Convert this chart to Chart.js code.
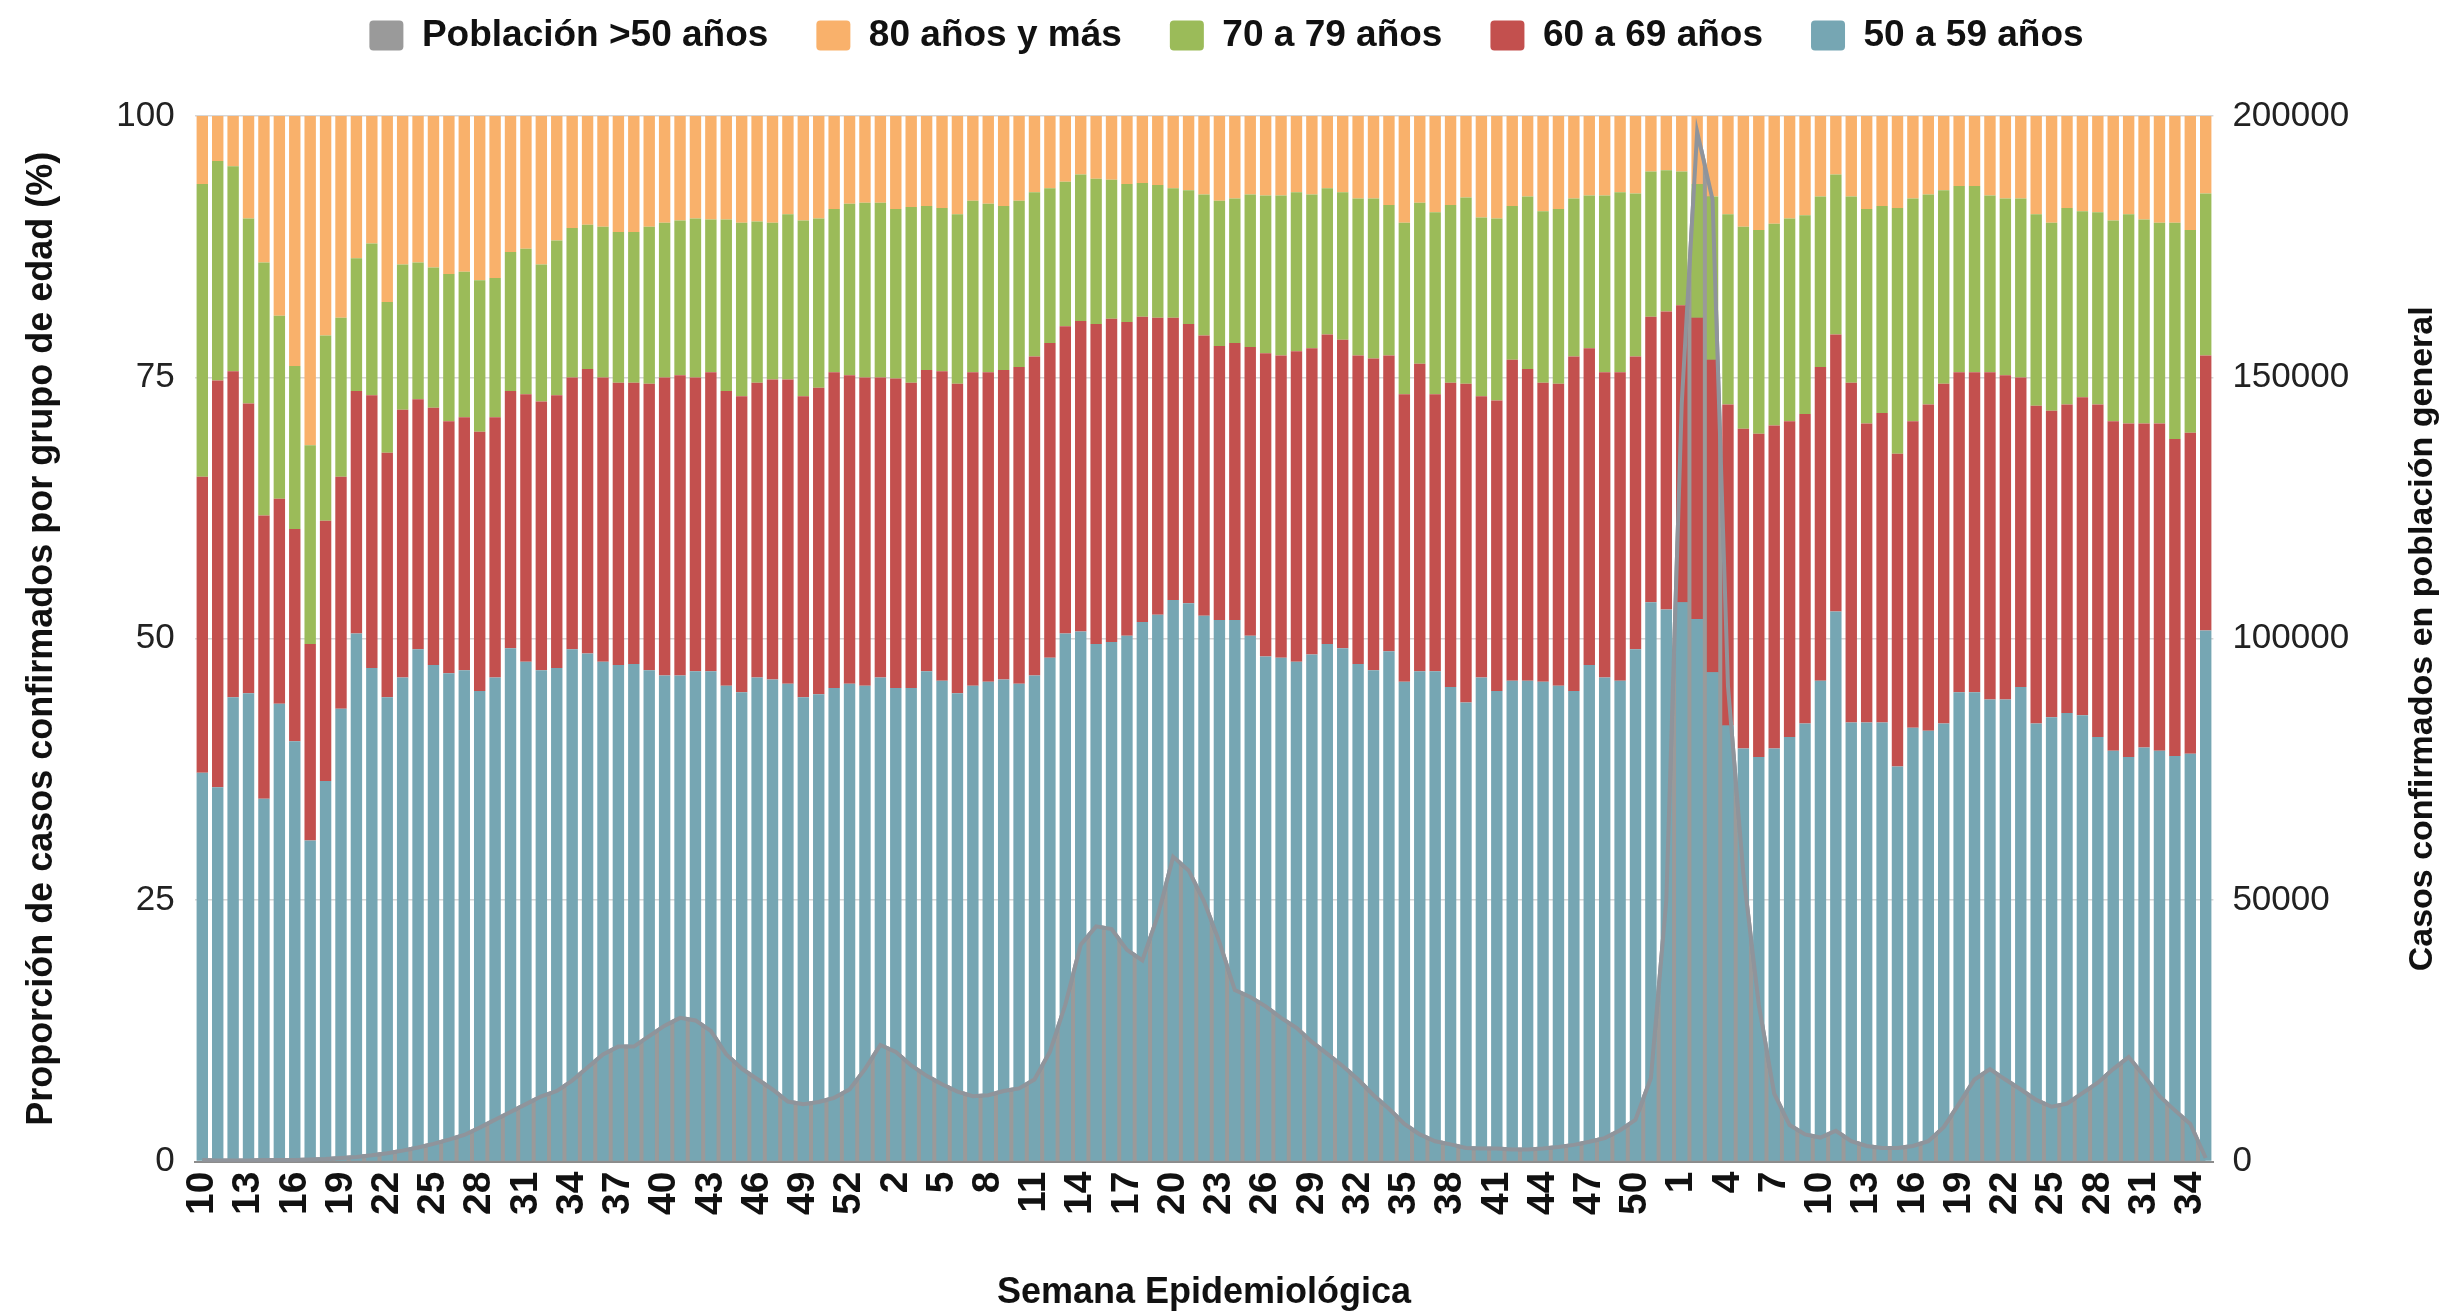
<!DOCTYPE html>
<html>
<head>
<meta charset="utf-8">
<title>Casos confirmados por grupo de edad</title>
<script src="https://cdn.jsdelivr.net/npm/chart.js@4.4.1/dist/chart.umd.min.js"></script>
<style>
  html, body { margin: 0; padding: 0; background: #fff; }
  #wrap { width: 2451px; height: 1313px; position: relative; }
</style>
</head>
<body>
<div id="wrap"><canvas id="myChart"></canvas></div>
<script>
// semanas epidemiologicas: 2020 (10-53), 2021 (1-52), 2022 (1-35)
var semanas = [10,11,12,13,14,15,16,17,18,19,20,21,22,23,24,25,26,27,28,29,30,31,32,33,34,35,36,37,38,39,40,41,42,43,44,45,46,47,48,49,50,51,52,53,
  1,2,3,4,5,6,7,8,9,10,11,12,13,14,15,16,17,18,19,20,21,22,23,24,25,26,27,28,29,30,31,32,33,34,35,36,37,38,39,40,41,42,43,44,45,46,47,48,49,50,51,52,
  1,2,3,4,5,6,7,8,9,10,11,12,13,14,15,16,17,18,19,20,21,22,23,24,25,26,27,28,29,30,31,32,33,34,35];

// proporcion (%) de casos confirmados por grupo de edad
var edad50a59 = [37.2,35.8,44.4,44.8,34.7,43.8,40.2,30.7,36.4,43.3,
  50.5,47.2,44.4,46.3,49.0,47.5,46.7,47.0,45.0,46.3,
  49.1,47.8,47.0,47.2,49.0,48.6,47.8,47.5,47.6,47.0,
  46.5,46.5,46.9,46.9,45.5,44.9,46.3,46.1,45.7,44.4,
  44.7,45.3,45.7,45.5,46.3,45.3,45.3,46.9,46.0,44.8,
  45.5,45.9,46.1,45.7,46.5,48.2,50.5,50.7,49.5,49.7,
  50.3,51.6,52.3,53.7,53.4,52.2,51.8,51.8,50.3,48.3,
  48.2,47.8,48.5,49.5,49.1,47.6,47.0,48.8,45.9,46.9,
  46.9,45.4,43.9,46.3,45.0,46.0,46.0,45.9,45.5,45.0,
  47.5,46.3,46.0,49.0,53.5,52.8,53.5,51.9,46.8,41.7,
  39.5,38.7,39.5,40.6,41.9,46.0,52.6,42.0,42.0,42.0,
  37.8,41.5,41.2,41.9,44.9,44.9,44.2,44.2,45.4,41.9,
  42.5,42.9,42.7,40.6,39.3,38.7,39.6,39.3,38.8,39.0,
  50.8];
var edad60a69 = [28.3,38.9,31.2,27.7,27.1,19.6,20.3,18.8,24.9,22.2,
  23.2,26.1,23.4,25.6,23.9,24.6,24.1,24.2,24.8,24.9,
  24.6,25.6,25.7,26.1,26.0,27.2,27.2,27.0,26.9,27.4,
  28.5,28.7,28.1,28.6,28.2,28.3,28.2,28.7,29.1,28.8,
  29.3,30.2,29.5,29.5,28.7,29.6,29.2,28.8,29.6,29.6,
  30.0,29.6,29.6,30.3,30.5,30.1,29.4,29.7,30.6,30.9,
  30.0,29.2,28.4,27.0,26.7,26.8,26.2,26.5,27.6,29.0,
  28.9,29.7,29.3,29.6,29.5,29.5,29.8,28.3,27.5,29.4,
  26.5,29.1,30.5,26.9,27.8,30.7,29.8,28.6,28.9,32.0,
  30.3,29.2,29.5,28.0,27.3,28.5,28.4,28.8,29.9,30.7,
  30.6,30.9,30.9,30.2,29.6,30.0,26.5,32.5,28.6,29.6,
  29.9,29.3,31.2,32.5,30.6,30.6,31.3,31.0,29.6,30.4,
  29.3,29.5,30.4,31.8,31.5,31.9,31.0,31.3,30.3,30.7,
  26.3];
var edad70a79 = [28.0,21.0,19.6,17.7,24.2,17.5,15.6,19.0,17.7,15.2,
  12.7,14.5,14.4,13.9,13.1,13.4,14.1,13.9,14.5,13.3,
  13.3,13.9,13.1,14.8,14.3,13.8,14.4,14.4,14.4,15.0,
  14.8,14.8,15.2,14.6,16.4,16.6,15.4,15.0,15.8,16.8,
  16.2,15.6,16.4,16.7,16.7,16.2,16.8,15.7,15.6,16.2,
  16.4,16.1,15.7,15.9,15.7,14.8,13.8,14.0,13.9,13.3,
  13.2,12.8,12.7,12.4,12.8,13.5,13.9,13.8,14.6,15.1,
  15.3,15.2,14.7,14.0,14.1,15.0,15.3,14.4,16.4,15.4,
  17.4,17.0,17.8,17.1,17.4,14.7,16.5,16.4,16.7,15.1,
  14.6,16.9,17.2,15.6,13.9,13.5,12.8,12.8,15.6,18.2,
  19.3,19.5,19.3,19.4,19.0,16.3,15.3,17.8,20.5,19.8,
  23.5,21.3,20.1,18.5,17.8,17.8,16.9,16.9,17.1,18.3,
  18.0,18.8,17.8,18.4,19.2,20.0,19.5,19.2,20.7,19.4,
  15.5];
var edad80ymas = [6.5,4.3,4.8,9.8,14.0,19.1,23.9,31.5,21.0,19.3,
  13.6,12.2,17.8,14.2,14.0,14.5,15.1,14.9,15.7,15.5,
  13.0,12.7,14.2,11.9,10.7,10.4,10.6,11.1,11.1,10.6,
  10.2,10.0,9.8,9.9,9.9,10.2,10.1,10.2,9.4,10.0,
  9.8,8.9,8.4,8.3,8.3,8.9,8.7,8.6,8.8,9.4,
  8.1,8.4,8.6,8.1,7.3,6.9,6.3,5.6,6.0,6.1,
  6.5,6.4,6.6,6.9,7.1,7.5,8.1,7.9,7.5,7.6,
  7.6,7.3,7.5,6.9,7.3,7.9,7.9,8.5,10.2,8.3,
  9.2,8.5,7.8,9.7,9.8,8.6,7.7,9.1,8.9,7.9,
  7.6,7.6,7.3,7.4,5.3,5.2,5.3,6.5,7.7,9.4,
  10.6,10.9,10.3,9.8,9.5,7.7,5.6,7.7,8.9,8.6,
  8.8,7.9,7.5,7.1,6.7,6.7,7.6,7.9,7.9,9.4,
  10.2,8.8,9.1,9.2,10.0,9.4,9.9,10.2,10.2,10.9,
  7.4];

// casos confirmados en poblacion general (>50 anos)
var poblacion50 = [300,200,200,200,300,300,300,400,500,700,
  900,1200,1600,2100,2700,3400,4200,5100,6500,8000,
  9500,11000,12500,13500,15500,18000,20500,22000,22000,24000,
  26000,27500,27000,25000,20500,17800,15800,13800,11500,11000,
  11400,12200,13800,17700,22300,21000,18400,16400,14800,13400,
  12500,12700,13500,14000,15700,21000,30000,41500,45000,44500,
  40500,38500,47000,58300,55700,49800,42000,32800,31500,29700,
  27500,25600,22900,20600,18300,15700,12700,10100,7200,5200,
  3900,3300,2600,2500,2500,2300,2300,2500,2800,3200,
  3800,4500,6000,8000,16000,50000,145000,197000,184000,91000,
  55000,30000,13000,7000,5200,4600,5900,3900,3000,2600,
  2600,3000,3900,6600,11100,15700,17700,15700,13800,11800,
  10500,11100,13100,15100,17700,20000,16400,12500,9800,7200,
  700];

var fuente = '"Liberation Sans", Arial, Helvetica, sans-serif';
Chart.defaults.font.family = fuente;
Chart.defaults.color = '#111';

// the area line goes back on top of the bars, the fill stays behind
var lineaEncima = {
  id: 'lineaEncima',
  afterDatasetsDraw: function (chart) {
    var meta = chart.getDatasetMeta(4);
    if (!meta || meta.hidden) return;
    var ctx = chart.ctx, a = chart.chartArea;
    ctx.save();
    ctx.beginPath();
    ctx.rect(a.left, a.top - 4, a.right - a.left, a.bottom - a.top + 4);
    ctx.clip();
    meta.dataset.draw(ctx, a);
    ctx.restore();
  }
};

// right axis title reads bottom to top, like the left one
var tituloDerecho = {
  id: 'tituloDerecho',
  afterDraw: function (chart) {
    var s = chart.scales.y1, a = chart.chartArea, ctx = chart.ctx;
    ctx.save();
    ctx.translate(s.right - 28, (a.top + a.bottom) / 2);
    ctx.rotate(-Math.PI / 2);
    ctx.font = 'bold 34px ' + fuente;
    ctx.fillStyle = '#111';
    ctx.textAlign = 'center';
    ctx.textBaseline = 'middle';
    ctx.fillText('Casos confirmados en población general', 0, 0);
    ctx.restore();
  }
};

// extra room under the legend
var espacioLeyenda = {
  id: 'espacioLeyenda',
  beforeInit: function (chart) {
    var fitOrig = chart.legend.fit;
    chart.legend.fit = function () {
      fitOrig.bind(chart.legend)();
      this.height += 52;
    };
  }
};

var chartdata = {
  labels: semanas.map(String),
  datasets: [
    { label: '50 a 59 años', data: edad50a59, backgroundColor: '#76A6B3', stack: 'g', yAxisID: 'y', order: 1 },
    { label: '60 a 69 años', data: edad60a69, backgroundColor: '#C3504E', stack: 'g', yAxisID: 'y', order: 1 },
    { label: '70 a 79 años', data: edad70a79, backgroundColor: '#9BBB59', stack: 'g', yAxisID: 'y', order: 1 },
    { label: '80 años y más', data: edad80ymas, backgroundColor: '#F9B16B', stack: 'g', yAxisID: 'y', order: 1 },
    {
      type: 'line', label: 'Población >50 años', data: poblacion50, yAxisID: 'y1', order: 5,
      backgroundColor: '#9A9A9A', borderColor: '#8F949B', borderWidth: 4,
      fill: 'origin', tension: 0, pointRadius: 0, pointHoverRadius: 0
    }
  ]
};

var graphTarget = document.getElementById('myChart');
var barGraph = new Chart(graphTarget, {
  type: 'bar',
  data: chartdata,
  plugins: [espacioLeyenda, lineaEncima, tituloDerecho],
  options: {
    responsive: true,
    maintainAspectRatio: false,
    animation: false,
    layout: { padding: { top: -31, left: 2, right: 0, bottom: 0 } },
    datasets: { bar: { barPercentage: 0.74, categoryPercentage: 1, borderWidth: 0 } },
    plugins: {
      tooltip: { enabled: false },
      legend: {
        position: 'top',
        reverse: true,
        labels: {
          font: { size: 37, weight: 'bold' },
          color: '#111',
          boxWidth: 34,
          boxHeight: 30,
          padding: 48,
          useBorderRadius: true,
          borderRadius: 4,
          generateLabels: function (chart) {
            var items = Chart.defaults.plugins.legend.labels.generateLabels(chart);
            items.forEach(function (it) { it.lineWidth = 0; });
            return items;
          }
        }
      }
    },
    scales: {
      x: {
        stacked: true,
        offset: true,
        grid: { display: false, drawTicks: false },
        border: { display: true, color: '#8c8c8c', width: 2 },
        ticks: {
          autoSkip: false,
          minRotation: 90,
          maxRotation: 90,
          padding: 10,
          color: '#111',
          font: { size: 39, weight: 'bold' },
          callback: function (value, index) {
            return index % 3 === 0 ? this.getLabelForValue(value) : '';
          }
        },
        title: {
          display: true,
          text: 'Semana Epidemiológica',
          color: '#111',
          font: { size: 36, weight: 'bold', lineHeight: 1 },
          padding: { top: 50, bottom: 2 }
        }
      },
      y: {
        stacked: true,
        position: 'left',
        min: 0,
        max: 100,
        border: { display: false },
        grid: { color: '#d6d6d6', lineWidth: 1.5, drawTicks: false },
        ticks: { stepSize: 25, padding: 20, color: '#222', font: { size: 35 } },
        title: {
          display: true,
          text: 'Proporción de casos confirmados por grupo de edad (%)',
          color: '#111',
          font: { size: 36, weight: 'bold', lineHeight: 1.2 },
          padding: { top: 18, bottom: 33 }
        }
      },
      y1: {
        position: 'right',
        min: 0,
        max: 200000,
        border: { display: false },
        grid: { display: false, drawTicks: false },
        ticks: {
          stepSize: 50000, padding: 19, color: '#222', font: { size: 35 },
          callback: function (value) { return String(value); }
        },
        title: {
          display: true,
          text: 'Casos confirmados en población general',
          color: 'rgba(0,0,0,0)',
          font: { size: 34, weight: 'bold', lineHeight: 1.2 },
          padding: { top: 21, bottom: 21 }
        }
      }
    }
  }
});
</script>
</body>
</html>
